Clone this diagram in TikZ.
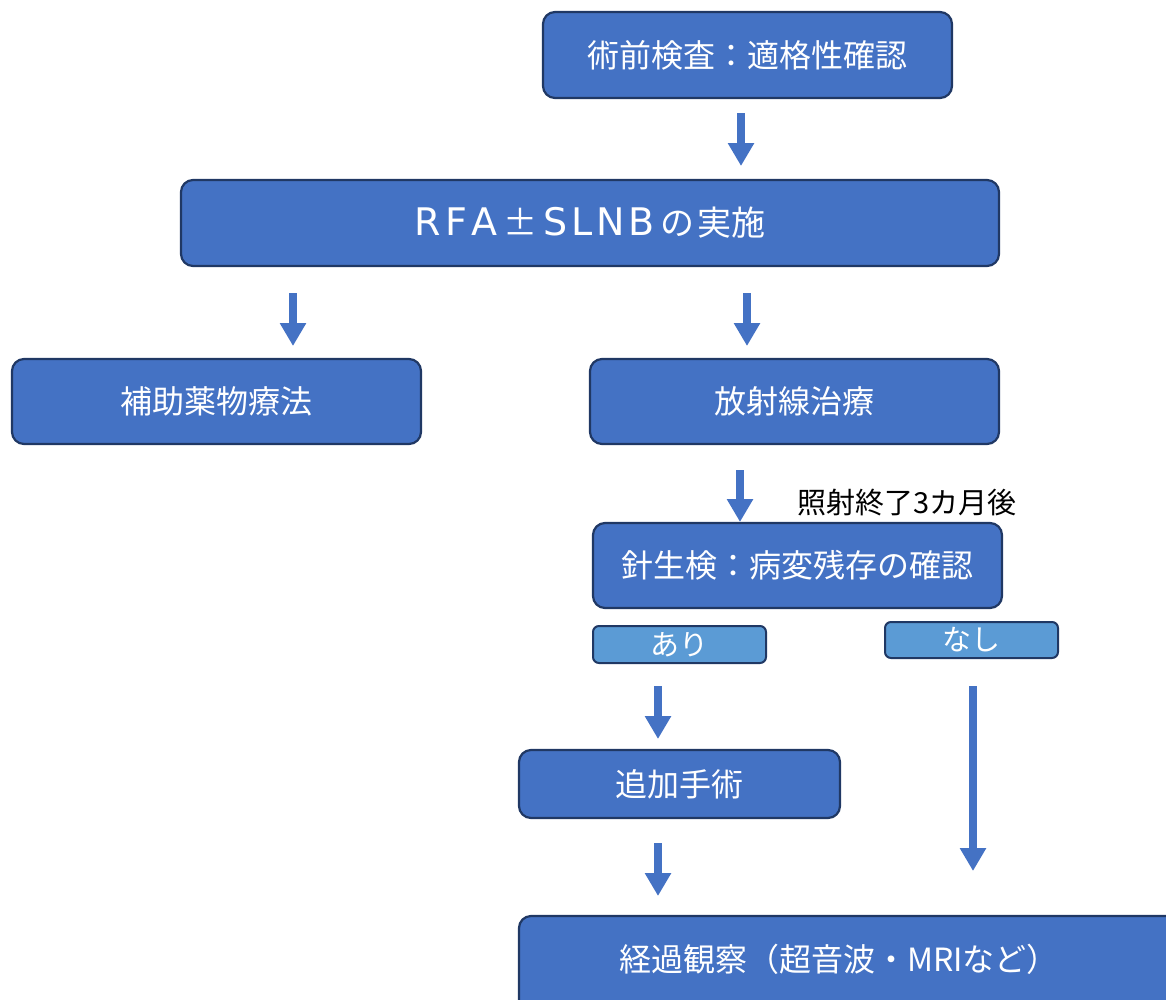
\documentclass[tikz,border=0pt]{standalone}
\usepackage{fontspec}
\setmainfont{Noto Sans CJK JP}
\newfontfamily\latinwide{DejaVu Sans}
\usetikzlibrary{arrows.meta}
\definecolor{boxfill}{HTML}{4472C4}
\definecolor{boxline}{HTML}{203864}
\definecolor{lightfill}{HTML}{5B9BD5}
\definecolor{arrowc}{HTML}{4472C4}
\newcommand{\lw}[1]{{\latinwide\fontsize{38}{42}\selectfont #1}}
\tikzset{
  box/.style={draw=boxline, line width=2.2pt, fill=boxfill, rounded corners=12pt,
    text=white, font=\fontsize{32}{38}\selectfont, inner sep=0pt},
  smallbox/.style={draw=boxline, line width=2pt, fill=lightfill, rounded corners=6pt,
    text=white, font=\fontsize{29}{32}\selectfont, inner sep=0pt,
    minimum width=173pt},
  blockarrow/.style={draw=arrowc, line width=8pt,
    -{Triangle[width=25pt,length=23pt]}},
  note/.style={text=black, font=\fontsize{29}{32}\selectfont, inner sep=0pt}
}
\begin{document}
\begin{tikzpicture}[x=1pt,y=-1pt]
\useasboundingbox (0,0) rectangle (1166,999);
\clip (0,0) rectangle (1166,999);

\node[box, minimum width=409pt, minimum height=86pt] (pre) at (747.5,55) {術前検査：適格性確認};
\node[box, minimum width=818pt, minimum height=86pt, font=\fontsize{34}{40}\selectfont] (rfa) at (590,223)
  {\lw{R\kern4pt F\kern4pt A}\hspace{6pt}±\hspace{6pt}\lw{S\kern4pt L\kern4pt N\kern4pt B}\hspace{5pt}の\hspace{3pt}実施};
\node[box, minimum width=409pt, minimum height=85pt] (chem) at (216.5,401.5) {補助薬物療法};
\node[box, minimum width=409pt, minimum height=85pt] (rad) at (794.5,401.5) {放射線治療};
\node[box, minimum width=409pt, minimum height=85pt] (bio) at (797.5,565.5) {針生検：病変残存の確認};
\node[smallbox, minimum height=37pt] (yes) at (679.5,644.5) {あり};
\node[smallbox, minimum height=36pt] (no) at (971.5,640) {なし};
\node[box, minimum width=321pt, minimum height=68pt] (surg) at (679.5,784) {追加手術};
\draw[draw=boxline, line width=2.2pt, fill=boxfill, rounded corners=12pt] (519,916) rectangle (1190,1020);
\node[text=white, font=\fontsize{32}{38}\selectfont, inner sep=0pt] (obs) at (839,959) {経過観察（超音波・MRIなど）};

\node[note, anchor=west] (lab) at (797,503) {照射終了3カ月後};

\coordinate (a1s) at (741,113); \coordinate (a1e) at (741,166);
\coordinate (a2s) at (293,293); \coordinate (a2e) at (293,346);
\coordinate (a3s) at (747,293); \coordinate (a3e) at (747,346);
\coordinate (a4s) at (740,470); \coordinate (a4e) at (740,522);
\coordinate (a5s) at (658,686); \coordinate (a5e) at (658,739);
\coordinate (a6s) at (973,686); \coordinate (a6e) at (973,871);
\coordinate (a7s) at (658,843); \coordinate (a7e) at (658,896);
\draw[blockarrow] (a1s) -- (a1e);
\draw[blockarrow] (a2s) -- (a2e);
\draw[blockarrow] (a3s) -- (a3e);
\draw[blockarrow] (a4s) -- (a4e);
\draw[blockarrow] (a5s) -- (a5e);
\draw[blockarrow] (a6s) -- (a6e);
\draw[blockarrow] (a7s) -- (a7e);
\end{tikzpicture}
\end{document}
